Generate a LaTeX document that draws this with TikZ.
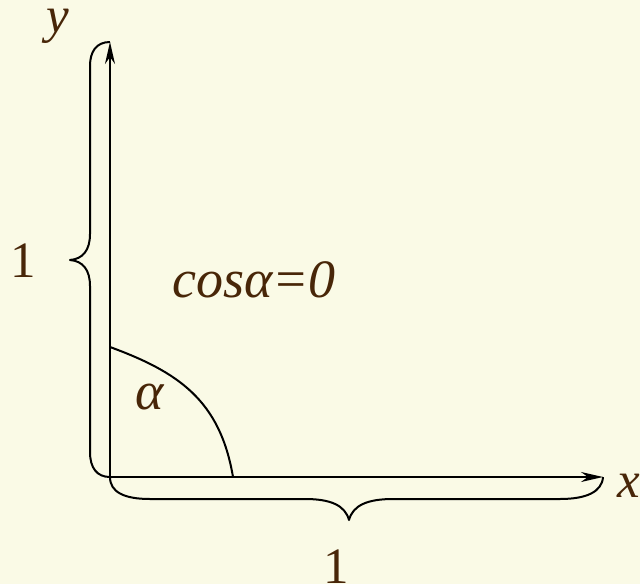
\documentclass[tikz,border=0pt]{standalone}
\usepackage{fontspec}
\newfontfamily\tms{LiberationSerif}[Extension=.ttf,UprightFont=*-Regular,ItalicFont=*-Italic,BoldFont=*-Bold]
\usetikzlibrary{arrows.meta}
\definecolor{bgc}{RGB}{250,250,230}
\definecolor{txt}{RGB}{72,38,8}
\begin{document}
\begin{tikzpicture}[x=1pt,y=-1pt,
  lbl/.style={text=txt,inner sep=0pt,font=\tms\fontsize{51}{60}\selectfont},
  ilbl/.style={lbl,font=\tms\fontsize{51}{60}\selectfont\itshape},
  blbl/.style={lbl,font=\tms\fontsize{54}{60}\selectfont\itshape},
  axis/.style={line width=2pt,-{Stealth[length=22pt,width=10pt,inset=7pt]}},
  curve/.style={line width=2pt,line join=round}]
\fill[bgc] (0,0) rectangle (640,584);
\useasboundingbox (0,0) rectangle (640,584);
\coordinate (O) at (110,477);
\coordinate (Y) at (110,42);
\coordinate (X) at (603,477);
\coordinate (A) at (110,347);
\coordinate (B) at (233,477);
\draw[axis] (O) -- (Y);
\draw[axis] (O) -- (X);
\draw[curve] (A) .. controls (178,372) and (220,400) .. (B);
% left brace
\draw[curve] (Y) .. controls (96,42) and (90,52) .. (90,66) -- (90,234)
  .. controls (90,250) and (83,259) .. (70,260)
  .. controls (83,261) and (90,270) .. (90,286) -- (90,452)
  .. controls (90,468) and (97,477) .. (O);
% bottom brace
\draw[curve] (O) .. controls (110,492) and (124,499) .. (150,499) -- (305,499)
  .. controls (330,499) and (345,505) .. (349,520)
  .. controls (353,505) and (368,499) .. (393,499) -- (560,499)
  .. controls (586,499) and (602,492) .. (X);
\node[ilbl,anchor=base] (ylab) at (58,32) {y};
\node[ilbl,anchor=base west] (xlab) at (617,497) {x};
\node[lbl,anchor=base] (one1) at (23,277) {1};
\node[lbl,anchor=base] (one2) at (336,583) {1};
\node[blbl,anchor=base] (cos) at (254,297) {cosα=0};
\node[blbl,anchor=base] (alpha) at (150,409) {α};
\end{tikzpicture}
\end{document}
